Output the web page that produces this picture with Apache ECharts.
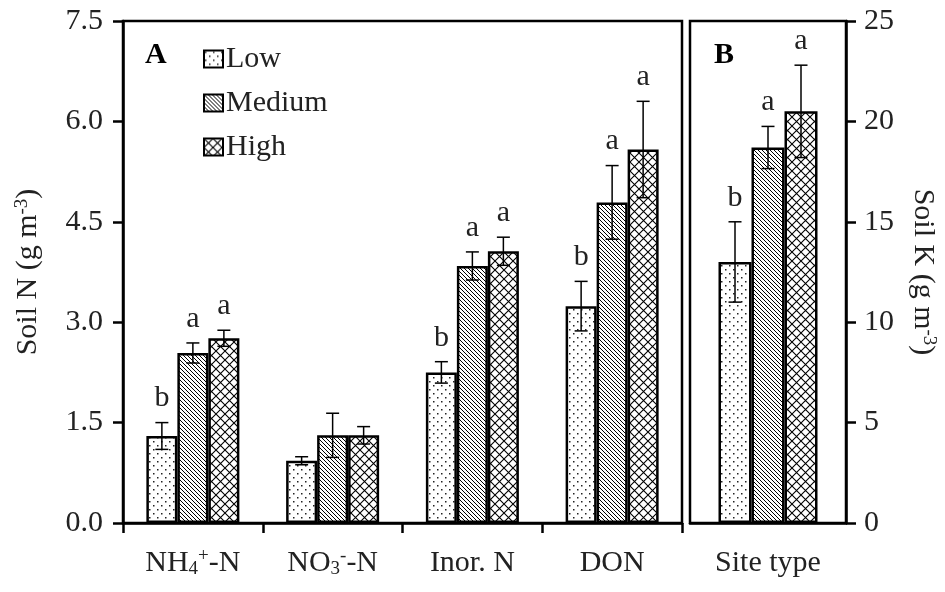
<!DOCTYPE html>
<html><head><meta charset="utf-8">
<script src="https://cdn.jsdelivr.net/npm/echarts@6/dist/echarts.min.js"></script>
<style>html,body{margin:0;padding:0;background:#fff}#c{width:945px;height:592px}</style>
</head><body><div id="c"></div>
<script>
// ---- data ----
const categoriesN = ['NH4+-N', 'NO3--N', 'Inor. N', 'DON'];
const categoriesK = ['Site type'];
const seriesNames = ['Low', 'Medium', 'High'];
const lowN = [1.30, 0.93, 2.25, 3.24];
const lowNErr = [0.20, 0.06, 0.16, 0.37];
const medN = [2.54, 1.31, 3.84, 4.79];
const medNErr = [0.15, 0.33, 0.21, 0.55];
const highN = [2.76, 1.31, 4.06, 5.58];
const highNErr = [0.12, 0.13, 0.21, 0.72];
const lowNLetters = ['b', '', 'b', 'b'];
const medNLetters = ['a', '', 'a', 'a'];
const highNLetters = ['a', '', 'a', 'a'];
const lowK = [13.0];
const lowKErr = [2.0];
const medK = [18.7];
const medKErr = [1.05];
const highK = [20.5];
const highKErr = [2.3];
const lowKLetters = ['b'];
const medKLetters = ['a'];
const highKLetters = ['a'];
const yTicksN = ['0.0', '1.5', '3.0', '4.5', '6.0', '7.5'];
const yTicksK = ['0', '5', '10', '15', '20', '25'];

// ---- patterns ----
function mk(w, h, draw) {
  const c = document.createElement('canvas'); c.width = w; c.height = h;
  const g = c.getContext('2d'); g.fillStyle = '#fff'; g.fillRect(0, 0, w, h);
  draw(g); return { image: c, repeat: 'repeat' };
}
const patDots = mk(8, 8, g => { g.fillStyle = '#222'; g.fillRect(1, 1, 1.5, 1.5); g.fillRect(5, 5, 1.5, 1.5); });
const patDiag = mk(4, 4, g => { g.strokeStyle = '#000'; g.lineWidth = 1; g.beginPath();
  g.moveTo(-1, -1); g.lineTo(5, 5); g.moveTo(-1, 3); g.lineTo(1, 5); g.moveTo(3, -1); g.lineTo(5, 1); g.stroke(); });
const patCross = mk(9, 9, g => { g.strokeStyle = '#000'; g.lineWidth = 1.1; g.beginPath();
  g.moveTo(0, 0); g.lineTo(9, 9); g.moveTo(9, 0); g.lineTo(0, 9); g.stroke(); });
const pats = [patDots, patDiag, patCross];

const FONT = 'Liberation Serif';
const BW_N = 31, BW_K = 33;

function barSeries(name, data, idx, grid, bw) {
  return { name, type: 'bar', xAxisIndex: grid, yAxisIndex: grid, data, barWidth: bw, barGap: '0%',
    itemStyle: { color: pats[idx], borderColor: '#000', borderWidth: 2.5 }, z: 2 };
}
function errSeries(vals, errs, letters, idx, grid, bw) {
  const data = vals.map((v, i) => [i, v, errs[i]]);
  return { type: 'custom', xAxisIndex: grid, yAxisIndex: grid, data, z: 5, silent: true,
    renderItem(params, api) {
      const cat = api.value(0), v = api.value(1), e = api.value(2);
      const c = api.coord([cat, v]);
      const x = c[0] + (idx - 1) * bw;
      const yt = api.coord([cat, v + e])[1], yb = api.coord([cat, v - e])[1];
      const cap = 6.5;
      const st = { stroke: '#000', lineWidth: 1.5 };
      const ch = [
        { type: 'line', shape: { x1: x, y1: yt, x2: x, y2: yb }, style: st },
        { type: 'line', shape: { x1: x - cap, y1: yt, x2: x + cap, y2: yt }, style: st },
        { type: 'line', shape: { x1: x - cap, y1: yb, x2: x + cap, y2: yb }, style: st }
      ];
      const L = letters[params.dataIndex];
      if (L) ch.push({ type: 'text', style: { text: L, x: x, y: yt - 9, align: 'center', verticalAlign: 'bottom',
        font: '30px ' + FONT, fill: '#222' } });
      return { type: 'group', children: ch };
    } };
}

const richMap = {
  'NH4+-N': '{t|NH}{sub|4}{sup|+}{t|-N}',
  'NO3--N': '{t|NO}{sub|3}{sup|-}{t|-N}'
};
const rich = {
  t: { fontSize: 30, fontFamily: FONT, color: '#222', lineHeight: 32 },
  sub: { fontSize: 19, fontFamily: FONT, color: '#222', lineHeight: 19, verticalAlign: 'bottom' },
  sup: { fontSize: 19, fontFamily: FONT, color: '#222', lineHeight: 19, verticalAlign: 'top' }
};

const axLine = { show: true, lineStyle: { color: '#000', width: 2.5 } };
const axTick = { show: true, inside: false, length: 10, interval: 0, lineStyle: { color: '#000', width: 2.5 } };
const lab = { fontSize: 30, fontFamily: FONT, color: '#222' };

const option = {
  animation: false,
  textStyle: { fontFamily: FONT },
  legend: { data: seriesNames, orient: 'vertical', left: 198, top: 39, itemWidth: 19, itemHeight: 17, itemGap: 14,
    icon: 'rect',
    textStyle: { fontSize: 30, fontFamily: FONT, color: '#222', padding: [0, 0, 0, -2] },
    itemStyle: { borderWidth: 2, borderColor: '#000' }, selectedMode: false },
  grid: [
    { left: 123, right: 263, top: 21, bottom: 69, show: true, borderColor: '#000', borderWidth: 2.5, backgroundColor: 'transparent' },
    { left: 690, right: 99, top: 21, bottom: 69, show: true, borderColor: '#000', borderWidth: 2.5, backgroundColor: 'transparent' }
  ],
  xAxis: [
    { type: 'category', gridIndex: 0, data: categoriesN, axisLine: axLine, axisTick: axTick,
      axisLabel: { margin: 24, interval: 0, formatter: v => richMap[v] || ('{t|' + v + '}'), rich } },
    { type: 'category', gridIndex: 1, data: categoriesK, axisLine: axLine, axisTick: { show: false },
      axisLabel: { margin: 24, interval: 0, formatter: v => '{t|' + v + '}', rich } }
  ],
  yAxis: [
    { type: 'value', gridIndex: 0, min: 0, max: 7.5, interval: 1.5, position: 'left',
      axisLine: axLine, axisTick: axTick, splitLine: { show: false },
      axisLabel: { ...lab, margin: 20, formatter: (v) => yTicksN[Math.round(v / 1.5)] },
      name: 'Soil N (g m{sup|-3})', nameLocation: 'middle', nameRotate: 90, nameGap: 80,
      nameTextStyle: { fontSize: 30, fontFamily: FONT, color: '#222',
        rich: { sup: { fontSize: 19, fontFamily: FONT, color: '#222', verticalAlign: 'top', lineHeight: 19 } } } },
    { type: 'value', gridIndex: 1, min: 0, max: 25, interval: 5, position: 'right',
      axisLine: axLine, axisTick: axTick, splitLine: { show: false },
      axisLabel: { ...lab, margin: 18, formatter: (v) => yTicksK[Math.round(v / 5)] },
      name: 'Soil K (g m{sup|-3})', nameLocation: 'middle', nameRotate: -90, nameGap: 62,
      nameTextStyle: { fontSize: 30, fontFamily: FONT, color: '#222',
        rich: { sup: { fontSize: 19, fontFamily: FONT, color: '#222', verticalAlign: 'top', lineHeight: 19 } } } }
  ],
  graphic: [
    { type: 'text', left: 145, top: 40, style: { text: 'A', font: 'bold 30px ' + FONT, fill: '#000' } },
    { type: 'text', left: 714, top: 40, style: { text: 'B', font: 'bold 30px ' + FONT, fill: '#000' } }
  ],
  series: [
    barSeries('Low', lowN, 0, 0, BW_N),
    barSeries('Medium', medN, 1, 0, BW_N),
    barSeries('High', highN, 2, 0, BW_N),
    barSeries('Low', lowK, 0, 1, BW_K),
    barSeries('Medium', medK, 1, 1, BW_K),
    barSeries('High', highK, 2, 1, BW_K),
    errSeries(lowN, lowNErr, lowNLetters, 0, 0, BW_N),
    errSeries(medN, medNErr, medNLetters, 1, 0, BW_N),
    errSeries(highN, highNErr, highNLetters, 2, 0, BW_N),
    errSeries(lowK, lowKErr, lowKLetters, 0, 1, BW_K),
    errSeries(medK, medKErr, medKLetters, 1, 1, BW_K),
    errSeries(highK, highKErr, highKLetters, 2, 1, BW_K)
  ]
};
const chart = echarts.init(document.getElementById('c'), null, { renderer: 'canvas' });
chart.setOption(option);
</script></body></html>
